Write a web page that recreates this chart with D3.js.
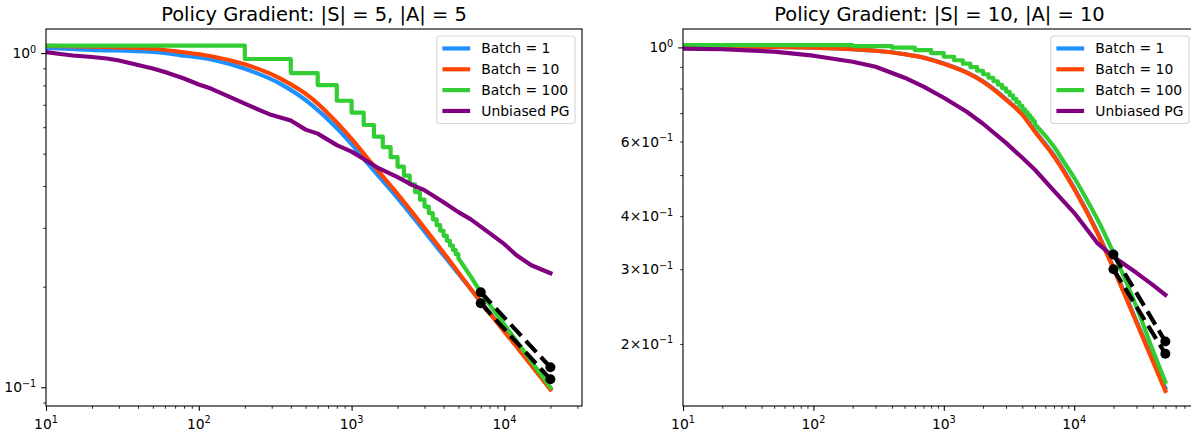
<!DOCTYPE html>
<html>
<head>
<meta charset="utf-8">
<script src="https://cdn.jsdelivr.net/npm/d3@7"></script>
<style>
  body { margin: 0; background: #fff; overflow: hidden; }
  svg text { font-family: "DejaVu Sans", sans-serif; fill: #000; }
</style>
</head>
<body>
<div id="chart"></div>
<script>
const seriesNames = ["Batch = 1", "Batch = 10", "Batch = 100", "Unbiased PG"];
const seriesColors = ["#1e90ff", "#ff4500", "#32cd32", "#800080"];

// ---- |S| = 5, |A| = 5 ----
const s5Iters = [10, 20, 50, 75, 125, 200, 340, 550, 800, 1000, 1300, 2000, 4000, 7000, 12500, 20000];
const s5Batch1 = [1.035, 1.022, 1.007, 0.986, 0.953, 0.897, 0.810, 0.699, 0.5966, 0.5337, 0.4627, 0.368, 0.2482, 0.1806, 0.1296, 0.0991];
const s5Batch10 = [1.05, 1.045, 1.03, 1.009, 0.975, 0.925, 0.84, 0.731, 0.620, 0.5535, 0.4786, 0.3783, 0.2527, 0.180, 0.1293, 0.0985];
const s5Batch100StepIters = [10, 200, 400, 600, 800, 1000, 1200, 1400, 1600, 1800, 2000, 2200, 2400, 2600, 2800, 3000, 3200, 3400, 3600, 3800, 4000, 4200, 4400, 4600, 4800, 5000];
const s5Batch100Steps = [1.052, 0.9595, 0.871, 0.802, 0.720, 0.663, 0.609, 0.562, 0.523, 0.488, 0.457, 0.430, 0.405, 0.3836, 0.3641, 0.347, 0.332, 0.318, 0.3055, 0.294, 0.2838, 0.2744, 0.2656, 0.2575, 0.2501, 0.2433];
const s5Batch100TailIters = [5000, 6000, 7000, 8000, 10000, 12500, 15000, 17500, 20000];
const s5Batch100Tail = [0.2433, 0.215, 0.1925, 0.1767, 0.1538, 0.134, 0.1197, 0.1086, 0.100];
const s5PgIters = [10, 12, 15, 20, 25, 30, 40, 50, 60, 80, 100, 120, 150, 200, 250, 300, 400, 500, 600, 800, 1000, 1200, 1500, 2000, 2500, 3000, 4000, 5000, 6000, 8000, 10000, 12000, 15000, 20000];
const s5Pg = [1.0069, 0.9952, 0.983, 0.9728, 0.9628, 0.9496, 0.9207, 0.8989, 0.877, 0.8388, 0.8048, 0.7828, 0.7485, 0.7061, 0.675, 0.652, 0.6279, 0.590, 0.574, 0.5303, 0.507, 0.4816, 0.4524, 0.4253, 0.4024, 0.3888, 0.3579, 0.3342, 0.3184, 0.2891, 0.268, 0.2484, 0.2318, 0.2195];
const s5FitIters = [7000, 20000];
const s5FitUpper = [0.1925, 0.1148];
const s5FitLower = [0.1784, 0.1057];

// ---- |S| = 10, |A| = 10 ----
const s10Iters = [10, 20, 50, 100, 200, 300, 500, 700, 1000, 1500, 2000, 3000, 4000, 5000, 7000, 10000, 15000, 20000, 30000, 40000, 50000];
const s10Batch1 = [1.005, 1.004, 1.002, 0.998, 0.990, 0.982, 0.964, 0.946, 0.916, 0.873, 0.832, 0.755, 0.696, 0.635, 0.556, 0.466, 0.368, 0.303, 0.2265, 0.1838, 0.1575];
const s10Batch10 = [1.0054, 1.0043, 1.0027, 0.9984, 0.9903, 0.9822, 0.9637, 0.9456, 0.9154, 0.8717, 0.830, 0.7528, 0.6938, 0.6328, 0.5532, 0.4637, 0.3658, 0.3010, 0.2249, 0.1824, 0.155];
const s10Batch100StepIters = [10, 200, 400, 600, 800, 1000, 1200, 1400, 1600, 1800, 2000, 2200, 2400, 2600, 2800, 3000, 3200, 3400, 3600, 3800, 4000, 4200, 4400, 4600, 4800, 5000];
const s10Batch100Steps = [1.012, 1.0065, 0.9984, 0.9849, 0.969, 0.9507, 0.9328, 0.9153, 0.8981, 0.8811, 0.8645, 0.8482, 0.8322, 0.8166, 0.8012, 0.7861, 0.7713, 0.7568, 0.7425, 0.7285, 0.7148, 0.7033, 0.692, 0.6808, 0.6698, 0.6591];
const s10Batch100TailIters = [5000, 6000, 7000, 8500, 10000, 12500, 15000, 20000, 25000, 30000, 40000, 50000];
const s10Batch100Tail = [0.6591, 0.619, 0.5831, 0.5319, 0.4929, 0.4373, 0.3945, 0.328, 0.2802, 0.2446, 0.1936, 0.1628];
const s10Pg = [0.993, 0.990, 0.977, 0.956, 0.925, 0.9006, 0.8482, 0.8079, 0.7608, 0.7052, 0.6607, 0.5957, 0.5494, 0.5147, 0.4592, 0.4075, 0.3462, 0.3209, 0.2942, 0.2756, 0.2611];
const s10FitIters = [20000, 50000];
const s10FitUpper = [0.325, 0.2027];
const s10FitLower = [0.300, 0.1896];

// tick labels: [value, mantissa, exponent]
const xTickLabels = [[10, "", "1"], [100, "", "2"], [1000, "", "3"], [10000, "", "4"]];
const s5YTickLabels = [[1, "", "0"], [0.1, "", "\u22121"]];
const s10YTickLabels = [[1, "", "0"], [0.6, "6", "\u22121"], [0.4, "4", "\u22121"], [0.3, "3", "\u22121"], [0.2, "2", "\u22121"]];

const zip = (xs, ys) => xs.map((v, i) => [v, ys[i]]);

// the right-hand axes runs slightly past the picture's right edge
const panels = [
  {
    id: "s5",
    title: "Policy Gradient: |S| = 5, |A| = 5",
    left: 46, right: 582, top: 29, bottom: 406,
    xDomain: [10, 32200], yDomain: [0.0879, 1.18],
    batch1: zip(s5Iters, s5Batch1),
    batch10: zip(s5Iters, s5Batch10),
    batch100Steps: zip(s5Batch100StepIters, s5Batch100Steps),
    batch100Tail: zip(s5Batch100TailIters, s5Batch100Tail),
    pg: zip(s5PgIters, s5Pg),
    fits: [zip(s5FitIters, s5FitUpper), zip(s5FitIters, s5FitLower)],
    yLabels: s5YTickLabels,
  },
  {
    id: "s10",
    title: "Policy Gradient: |S| = 10, |A| = 10",
    left: 683, right: 1196, top: 29, bottom: 406,
    xDomain: [10, 85900], yDomain: [0.1428, 1.105],
    batch1: zip(s10Iters, s10Batch1),
    batch10: zip(s10Iters, s10Batch10),
    batch100Steps: zip(s10Batch100StepIters, s10Batch100Steps),
    batch100Tail: zip(s10Batch100TailIters, s10Batch100Tail),
    pg: zip(s10Iters, s10Pg),
    fits: [zip(s10FitIters, s10FitUpper), zip(s10FitIters, s10FitLower)],
    yLabels: s10YTickLabels,
  },
];

const width = 1191;
const height = 431;
const lw = 4.17;          // 3pt
const tickFont = 13.89;   // 10pt
const supFont = 9.72;
const titleFont = 19.44;  // 14pt

const svg = d3.select("#chart")
  .append("svg")
  .attr("width", width)
  .attr("height", height);

const isMajor = (v) => Math.abs(Math.log10(v) - Math.round(Math.log10(v))) < 1e-9;

function mathLabel(text, mant, exp) {
  text.append("tspan").text(mant ? mant + "\u00d710" : "10");
  text.append("tspan").attr("dy", -5.5).attr("font-size", supFont).text(exp);
}

function drawPanel(p) {
  const x = d3.scaleLog().domain(p.xDomain).range([p.left, p.right]);
  const y = d3.scaleLog().domain(p.yDomain).range([p.bottom, p.top]);
  const g = svg.append("g").attr("class", "panel-" + p.id);

  svg.append("clipPath")
    .attr("id", "clip-" + p.id)
    .append("rect")
    .attr("x", p.left)
    .attr("y", p.top)
    .attr("width", p.right - p.left)
    .attr("height", p.bottom - p.top);

  const plot = g.append("g").attr("clip-path", `url(#clip-${p.id})`);

  const smooth = d3.line().x((d) => x(d[0])).y((d) => y(d[1])).curve(d3.curveMonotoneX);
  const straight = d3.line().x((d) => x(d[0])).y((d) => y(d[1]));
  const steps = d3.line().x((d) => x(d[0])).y((d) => y(d[1])).curve(d3.curveStepAfter);

  const addLine = (d, color) =>
    plot.append("path")
      .attr("d", d)
      .attr("fill", "none")
      .attr("stroke", color)
      .attr("stroke-width", lw)
      .attr("stroke-linejoin", "round")
      .attr("stroke-linecap", "square");

  addLine(smooth(p.batch1), seriesColors[0]);
  addLine(smooth(p.batch10), seriesColors[1]);
  // batch 100 is evaluated every 200 iterations: staircase, then a smooth tail
  addLine(steps(p.batch100Steps) + "L" + smooth(p.batch100Tail).slice(1), seriesColors[2]);
  addLine(straight(p.pg), seriesColors[3]);

  p.fits.forEach((f) => {
    plot.append("path")
      .attr("d", straight(f))
      .attr("fill", "none")
      .attr("stroke", "#000")
      .attr("stroke-width", lw)
      .attr("stroke-dasharray", "15.4,6.7");
    plot.selectAll(null)
      .data(f)
      .join("circle")
      .attr("cx", (d) => x(d[0]))
      .attr("cy", (d) => y(d[1]))
      .attr("r", 5)
      .attr("fill", "#000");
  });

  // axes: major and minor ticks
  const xt = x.ticks();
  const yt = y.ticks();
  const axG = g.append("g");
  axG.append("g")
    .attr("transform", `translate(0,${p.bottom})`)
    .call(d3.axisBottom(x).tickValues(xt.filter(isMajor)).tickSize(4.86).tickSizeOuter(0).tickFormat(""))
    .call((s) => s.select(".domain").remove())
    .call((s) => s.selectAll("line").attr("stroke-width", 1.1));
  axG.append("g")
    .attr("transform", `translate(0,${p.bottom})`)
    .call(d3.axisBottom(x).tickValues(xt.filter((v) => !isMajor(v))).tickSize(2.78).tickSizeOuter(0).tickFormat(""))
    .call((s) => s.select(".domain").remove())
    .call((s) => s.selectAll("line").attr("stroke-width", 0.84));
  axG.append("g")
    .attr("transform", `translate(${p.left},0)`)
    .call(d3.axisLeft(y).tickValues(yt.filter(isMajor)).tickSize(4.86).tickSizeOuter(0).tickFormat(""))
    .call((s) => s.select(".domain").remove())
    .call((s) => s.selectAll("line").attr("stroke-width", 1.1));
  axG.append("g")
    .attr("transform", `translate(${p.left},0)`)
    .call(d3.axisLeft(y).tickValues(yt.filter((v) => !isMajor(v))).tickSize(2.78).tickSizeOuter(0).tickFormat(""))
    .call((s) => s.select(".domain").remove())
    .call((s) => s.selectAll("line").attr("stroke-width", 0.84));

  xTickLabels.forEach(([v, m, e]) => {
    const t = axG.append("text")
      .attr("x", x(v))
      .attr("y", p.bottom + 22.5)
      .attr("text-anchor", "middle")
      .attr("font-size", tickFont);
    mathLabel(t, m, e);
  });
  p.yLabels.forEach(([v, m, e]) => {
    const t = axG.append("text")
      .attr("x", p.left - 9.7)
      .attr("y", y(v) + 5)
      .attr("text-anchor", "end")
      .attr("font-size", tickFont);
    mathLabel(t, m, e);
  });

  // frame
  g.append("rect")
    .attr("x", p.left)
    .attr("y", p.top)
    .attr("width", p.right - p.left)
    .attr("height", p.bottom - p.top)
    .attr("fill", "none")
    .attr("stroke", "#000")
    .attr("stroke-width", 1.1);

  // title
  g.append("text")
    .attr("x", (p.left + p.right) / 2)
    .attr("y", p.top - 8.3)
    .attr("text-anchor", "middle")
    .attr("font-size", titleFont)
    .text(p.title);

  // legend (upper right)
  const fs = tickFont;
  const pad = 0.4 * fs;
  const rowH = fs + 0.5 * fs;
  const handleLen = 2 * fs;
  const textPad = 0.8 * fs;
  const leg = g.append("g");
  const box = leg.append("rect");
  const labels = leg.selectAll("text")
    .data(seriesNames)
    .join("text")
    .attr("font-size", fs)
    .text((d) => d);
  let maxW = 0;
  labels.each(function () { maxW = Math.max(maxW, this.getComputedTextLength()); });
  const legW = 2 * pad + handleLen + textPad + maxW;
  const legH = 2 * pad + 4 * fs + 3 * 0.5 * fs;
  const legX = p.right - 0.5 * fs - legW;
  const legY = p.top + 0.5 * fs;
  box.attr("x", legX)
    .attr("y", legY)
    .attr("width", legW)
    .attr("height", legH)
    .attr("rx", 3)
    .attr("fill", "#fff")
    .attr("fill-opacity", 0.8)
    .attr("stroke", "#ccc")
    .attr("stroke-opacity", 0.8)
    .attr("stroke-width", 1.1);
  const rowY = (i) => legY + pad + fs / 2 + i * rowH;
  leg.selectAll("line")
    .data(seriesNames)
    .join("line")
    .attr("x1", legX + pad)
    .attr("x2", legX + pad + handleLen)
    .attr("y1", (d, i) => rowY(i))
    .attr("y2", (d, i) => rowY(i))
    .attr("stroke", (d, i) => seriesColors[i])
    .attr("stroke-width", lw);
  labels
    .attr("x", legX + pad + handleLen + textPad)
    .attr("y", (d, i) => rowY(i) + 5);
}

panels.forEach(drawPanel);
</script>
</body>
</html>
